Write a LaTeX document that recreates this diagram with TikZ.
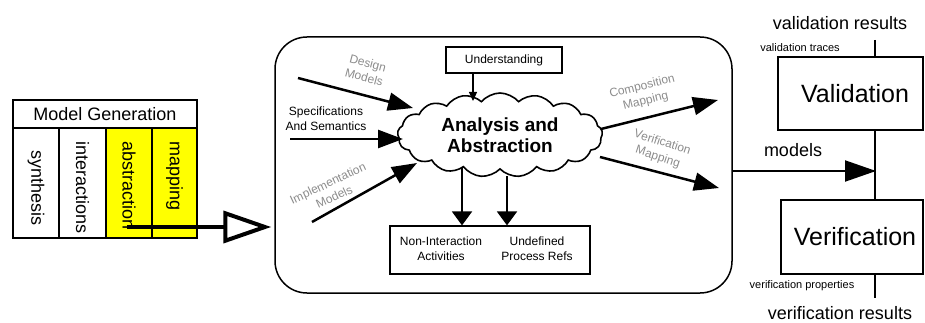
\documentclass[tikz,border=0pt]{standalone}
\usepackage{fontspec}
\setmainfont{Liberation Sans}
\usetikzlibrary{arrows.meta,shapes.symbols}
\definecolor{lblgray}{RGB}{140,140,140}
\definecolor{yel}{RGB}{255,255,0}
\begin{document}
\begin{tikzpicture}[x=1pt,y=-1pt,
  cellbox/.style={draw, line width=2.5pt, inner sep=0pt},
  coltext/.style={rotate=-90, anchor=west, inner sep=0pt, font=\fontsize{18}{20}\selectfont},
  thinbox/.style={draw, line width=1.2pt, inner sep=0pt, align=center},
  bigarrow/.style={line width=2.5pt, -{Triangle[length=25pt,width=18pt]}},
  downarrow/.style={line width=2pt, -{Triangle[length=14pt,width=20pt]}},
  graylbl/.style={text=lblgray, font=\fontsize{12}{15}\selectfont, align=center, inner sep=0pt},
  smalltxt/.style={font=\fontsize{12}{15}\selectfont, align=center, inner sep=0pt},
  rtext/.style={font=\fontsize{18}{20}\selectfont, inner sep=0pt},
  vline/.style={line width=2pt}
]
\useasboundingbox (0,0) rectangle (925,323);

% ---- Model Generation table ----
\node[cellbox, minimum width=184pt, minimum height=28pt, font=\fontsize{18}{20}\selectfont] (title) at (105,114) {Model Generation};
\node[cellbox, minimum width=46pt, minimum height=110pt] (c1) at (36,183) {};
\node[cellbox, minimum width=47pt, minimum height=110pt] (c2) at (82.5,183) {};
\node[cellbox, fill=yel, minimum width=46pt, minimum height=110pt] (c3) at (129,183) {};
\node[cellbox, fill=yel, minimum width=45pt, minimum height=110pt] (c4) at (174.5,183) {};
\node[coltext, anchor=center] (t1) at (36,188) {synthesis};
\node[coltext] (t2) at (82.5,141) {interactions};
\node[coltext] (t3) at (129,141) {abstraction};
\node[coltext] (t4) at (174.5,141) {mapping};

% ---- big rounded box ----
\node[draw, line width=1.5pt, rounded corners=32pt, minimum width=457pt, minimum height=256pt] (bigbox) at (503.5,165) {};

\coordinate (genstart) at (127,227);
\draw[line width=4pt, -{Triangle[open, length=48pt, width=32pt, line width=4pt]}, shorten >=3pt] (genstart) -- (bigbox.west |- genstart);

% ---- cloud ----
\node[cloud, draw, line width=1.6pt, cloud puffs=17, cloud puff arc=100, aspect=2.4,
      minimum width=205pt, minimum height=84pt, inner sep=0pt, align=center,
      font=\bfseries\fontsize{19}{21}\selectfont] (cloud) at (500,135) {Analysis and\\Abstraction};

% ---- Understanding ----
\node[thinbox, minimum width=116pt, minimum height=26pt, font=\fontsize{12}{13}\selectfont] (under) at (504,60) {Understanding};
\coordinate (undend) at (473,101);
\draw[line width=1.2pt, -{Triangle[length=9pt,width=8pt]}] (under.south -| undend) -- (undend);

% ---- inputs ----
\coordinate (dstart) at (298,78);
\coordinate (dend) at (413,108);
\draw[bigarrow] (dstart) -- (dend);
\node[graylbl, rotate=-15] (dlbl) at (366,70) {Design\\Models};

\node[smalltxt] (spec) at (326,119) {Specifications\\And Semantics};
\coordinate (sstart) at (290,139);
\coordinate (send) at (403,139);
\draw[bigarrow] (sstart) -- (send);

\coordinate (istart) at (312,222);
\coordinate (iend) at (417,163);
\draw[bigarrow] (istart) -- (iend);
\node[graylbl, rotate=25] (ilbl) at (331,190) {Implementation\\Models};

% ---- outputs ----
\coordinate (cstart) at (601,129);
\coordinate (cend) at (718,100);
\draw[bigarrow] (cstart) -- (cend);
\node[graylbl, rotate=14] (clbl) at (644,94) {Composition\\Mapping};

\coordinate (vstart) at (600,157);
\coordinate (vend) at (719,188);
\draw[bigarrow] (vstart) -- (vend);
\node[graylbl, rotate=-18] (vlbl) at (660,150) {Verification\\Mapping};

% ---- bottom box ----
\node[thinbox, minimum width=200pt, minimum height=48pt] (bottom) at (490,250) {};
\node[smalltxt] (nonint) at (441,249) {Non-Interaction\\Activities};
\node[smalltxt] (undef) at (537,249) {Undefined\\Process Refs};
\coordinate (d1) at (462,168);
\coordinate (d2) at (507,176);
\draw[downarrow] (d1) -- (d1 |- bottom.north);
\draw[downarrow] (d2) -- (d2 |- bottom.north);

% ---- right side ----
\node[thinbox, minimum width=145pt, minimum height=73pt, font=\fontsize{25}{28}\selectfont] (val) at (850.5,93.5) {\hspace*{9pt}Validation};
\node[thinbox, minimum width=142pt, minimum height=74pt, font=\fontsize{25}{28}\selectfont] (ver) at (852,237) {\hspace*{6pt}Verification};
\coordinate (vtop) at (875,40);
\coordinate (vbot) at (875,298);
\draw[vline] (vtop) -- (vtop |- val.north);
\draw[vline] (vtop |- val.south) -- (vtop |- ver.north);
\draw[vline] (vbot |- ver.south) -- (vbot);

\coordinate (mstart) at (732,171);
\coordinate (mend) at (876,171);
\draw[line width=2pt, -{Triangle[length=31pt,width=21pt]}] (mstart) -- (mend);
\node[rtext] (models) at (793,150) {models};

\node[rtext] (valres) at (840,23) {validation results};
\node[smalltxt, font=\fontsize{11}{12}\selectfont] (valtr) at (800,48) {validation traces};
\node[smalltxt, font=\fontsize{11}{12}\selectfont] (verprop) at (802,286) {verification properties};
\node[rtext] (verres) at (840,313) {verification results};
\end{tikzpicture}
\end{document}
